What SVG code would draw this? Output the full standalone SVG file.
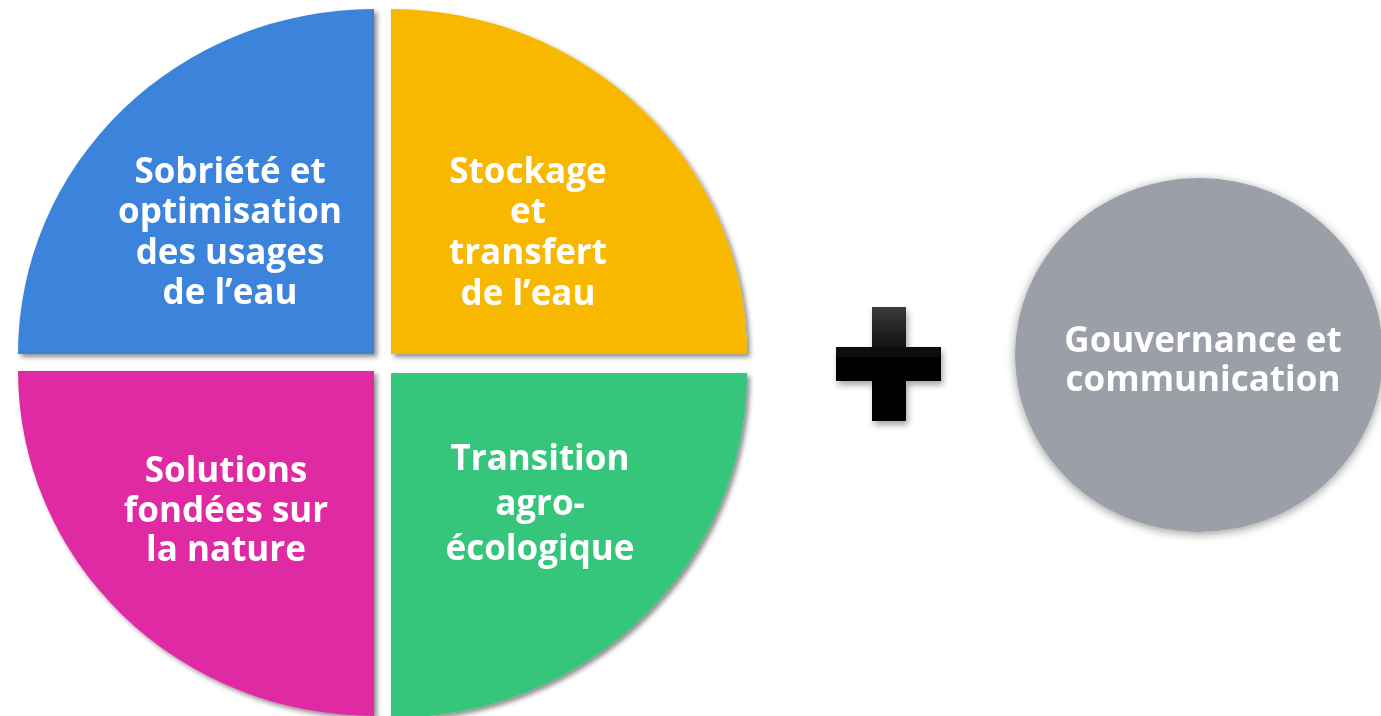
<svg xmlns="http://www.w3.org/2000/svg" width="1381" height="716" viewBox="0 0 1381 716">
<defs>
<filter id="sh" x="-10%" y="-10%" width="120%" height="120%"><feDropShadow dx="3" dy="3" stdDeviation="2.5" flood-color="#000" flood-opacity="0.45"/></filter>
<filter id="glow" x="-10%" y="-10%" width="120%" height="120%"><feDropShadow dx="0" dy="2" stdDeviation="5" flood-color="#000" flood-opacity="0.4"/></filter>
<filter id="psh" x="-20%" y="-20%" width="140%" height="140%"><feDropShadow dx="2" dy="4" stdDeviation="3" flood-color="#000" flood-opacity="0.35"/></filter>
<linearGradient id="pg" x1="0" y1="0" x2="0" y2="1"><stop offset="0" stop-color="#3c3c3c"/><stop offset="0.45" stop-color="#050505"/><stop offset="1" stop-color="#000"/></linearGradient>
</defs>
<style>
.t{font-family:"Open Sans","Noto Sans",sans-serif;font-weight:700;font-size:35px;fill:#fff;text-anchor:middle}
</style>
<rect width="1381" height="716" fill="#fff"/>
<g id="q-blue" filter="url(#sh)">
<path d="M374,354 L18,354 A356,345 0 0 1 374,9 Z" fill="#3B83DB"/>
<text class="t"><tspan x="230" y="183">Sobriété et</tspan><tspan x="230" y="223">optimisation</tspan><tspan x="230" y="264">des usages</tspan><tspan x="230" y="304">de l’eau</tspan></text>
</g>
<g id="q-orange" filter="url(#sh)">
<path d="M391,354 L391,9 A356,345 0 0 1 747,354 Z" fill="#F9B800"/>
<text class="t"><tspan x="528" y="183">Stockage</tspan><tspan x="528" y="223">et</tspan><tspan x="528" y="264">transfert</tspan><tspan x="528" y="305">de l’eau</tspan></text>
</g>
<g id="q-pink" filter="url(#sh)">
<path d="M374,371 L374,716 A356,345 0 0 1 18,371 Z" fill="#E02AA4"/>
<text class="t"><tspan x="226" y="482">Solutions</tspan><tspan x="226" y="522">fondées sur</tspan><tspan x="226" y="561">la nature</tspan></text>
</g>
<g id="q-green" filter="url(#sh)">
<path d="M391,373 L747,373 A356,345 0 0 1 391,718 Z" fill="#36C67C"/>
<text class="t"><tspan x="540" y="470">Transition</tspan><tspan x="540" y="515">agro-</tspan><tspan x="540" y="560">écologique</tspan></text>
</g>
<g id="plus" filter="url(#psh)">
<path d="M872,307 H906 V347 H941 V381 H906 V421 H872 V381 H836 V347 H872 Z" fill="url(#pg)"/>
</g>
<g id="gouvernance" filter="url(#glow)">
<ellipse cx="1199" cy="355" rx="184" ry="177" fill="#9B9FA7"/>
<text class="t"><tspan x="1203" y="352">Gouvernance et</tspan><tspan x="1203" y="391">communication</tspan></text>
</g>
<g id="connectors"/>
</svg>
